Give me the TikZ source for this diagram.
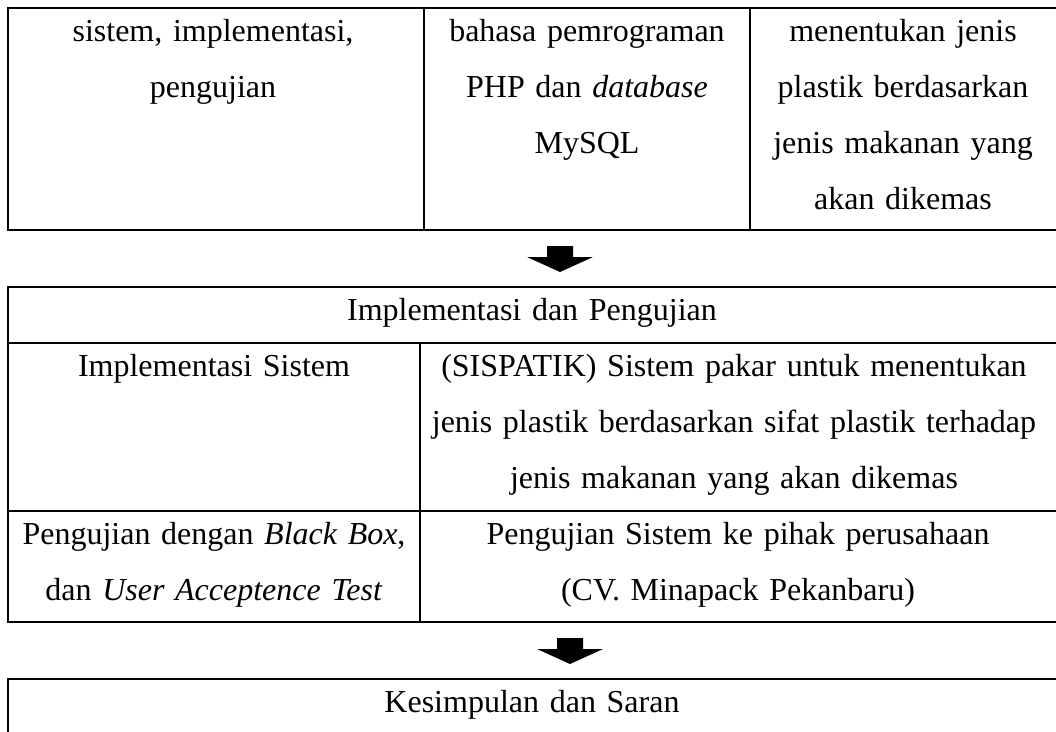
\documentclass[tikz,border=0pt]{standalone}
\usepackage{fontspec}
\setmainfont{Liberation Serif}
\newcommand{\cellstrut}{\rule{0pt}{33pt}}
\newcommand{\blockarrow}[1]{\fill (#1) ++(-13,0) -- ++(26,0) -- ++(0,11) -- ++(20,0) -- ++(-33,15) -- ++(-33,-15) -- ++(20,0) -- cycle;}
\tikzset{
        cell/.style={anchor=north, inner sep=0pt, align=center, text width=#1,
                font=\fontsize{32}{56}\selectfont},
        grid/.style={line width=1.6pt}
}

\begin{document}
\begin{tikzpicture}[x=1pt, y=-1pt]
        \useasboundingbox (0,0) rectangle (1056,731);

        % tabel atas
        \draw[grid] (8,8) rectangle (1058,230);
        \draw[grid] (424,8) -- (424,230);
        \draw[grid] (750,8) -- (750,230);
        \node (sistem) [cell=410pt] at (213,8) {\cellstrut sistem, implementasi,\\ pengujian};
        \node (bahasa) [cell=320pt] at (587,8) {\cellstrut bahasa pemrograman\\ PHP dan \textit{database}\\ MySQL};
        \node (jenis) [cell=300pt] at (903,8) {\cellstrut menentukan jenis\\ plastik berdasarkan\\ jenis makanan yang\\ akan dikemas};

        \coordinate (panahA) at (560,246);
        \blockarrow{panahA}

        % implementasi dan pengujian
        \draw[grid] (8,287) rectangle (1058,622);
        \draw[grid] (8,343) -- (1058,343);
        \draw[grid] (8,511) -- (1058,511);
        \draw[grid] (420,343) -- (420,622);
        \node (implUji) [cell=1000pt] at (532,287) {\cellstrut Implementasi dan Pengujian};
        \node (implSistem) [cell=400pt] at (214,343) {\cellstrut Implementasi Sistem};
        \node (sispatik) [cell=634pt] at (734,343) {\cellstrut (SISPATIK) Sistem pakar untuk menentukan\\ jenis plastik berdasarkan sifat plastik terhadap\\ jenis makanan yang akan dikemas};
        \node (blackBox) [cell=410pt] at (214,511) {\cellstrut Pengujian dengan \textit{Black Box},\\ dan \textit{User Acceptence Test}};
        \node (ujiPerusahaan) [cell=634pt] at (738,511) {\cellstrut Pengujian Sistem ke pihak perusahaan\\ (CV. Minapack Pekanbaru)};

        \coordinate (panahB) at (570,638);
        \blockarrow{panahB}

        % kesimpulan
        \draw[grid] (8,679) rectangle (1058,760);
        \node (kesimpulan) [cell=1000pt] at (532,679) {\cellstrut Kesimpulan dan Saran};
\end{tikzpicture}
\end{document}
